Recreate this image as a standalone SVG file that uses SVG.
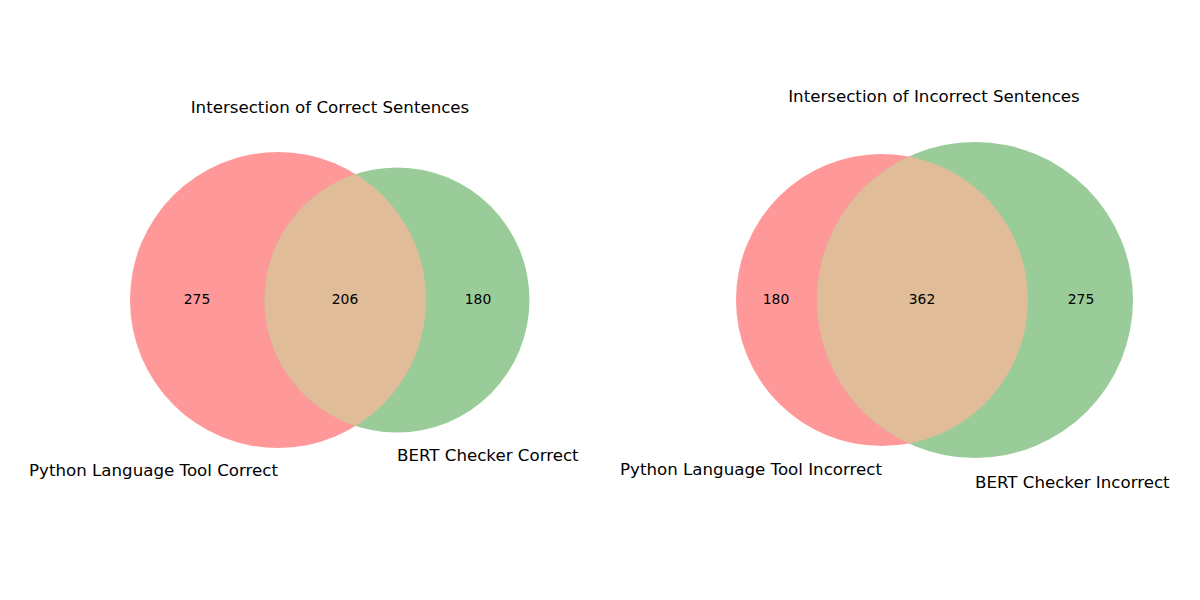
<svg xmlns="http://www.w3.org/2000/svg" width="1200" height="600" viewBox="0 0 1200 600">
<style>
.t{font-family:"DejaVu Sans",sans-serif;font-size:16.67px;fill:#000}
.n{font-family:"DejaVu Sans",sans-serif;font-size:13.9px;fill:#000;text-anchor:middle}
.a{fill:#ff9999}.b{fill:#99cc99}.ab{fill:#e0bd98}
</style>
<defs>
<clipPath id="c1"><circle cx="278" cy="300" r="148"/></clipPath>
<clipPath id="c2"><circle cx="882" cy="300" r="146"/></clipPath>
</defs>
<rect width="1200" height="600" fill="#fff"/>
<g id="venn-left">
<circle class="a" cx="278" cy="300" r="148"/>
<circle class="b" cx="397" cy="300" r="132.5"/>
<circle class="ab" cx="397" cy="300" r="132.5" clip-path="url(#c1)"/>
<text class="t" x="330" y="113" text-anchor="middle">Intersection of Correct Sentences</text>
<text class="n" x="197" y="304">275</text>
<text class="n" x="345" y="304">206</text>
<text class="n" x="478" y="304">180</text>
<text class="t" x="278" y="476" text-anchor="end">Python Language Tool Correct</text>
<text class="t" x="397" y="461">BERT Checker Correct</text>
</g>
<g id="venn-right">
<circle class="a" cx="882" cy="300" r="146"/>
<circle class="b" cx="975" cy="300" r="158"/>
<circle class="ab" cx="975" cy="300" r="158" clip-path="url(#c2)"/>
<text class="t" x="934" y="102" text-anchor="middle">Intersection of Incorrect Sentences</text>
<text class="n" x="776" y="304">180</text>
<text class="n" x="922" y="304">362</text>
<text class="n" x="1081" y="304">275</text>
<text class="t" x="882" y="475" text-anchor="end">Python Language Tool Incorrect</text>
<text class="t" x="975" y="488">BERT Checker Incorrect</text>
</g>
<g id="connectors"/>
</svg>
